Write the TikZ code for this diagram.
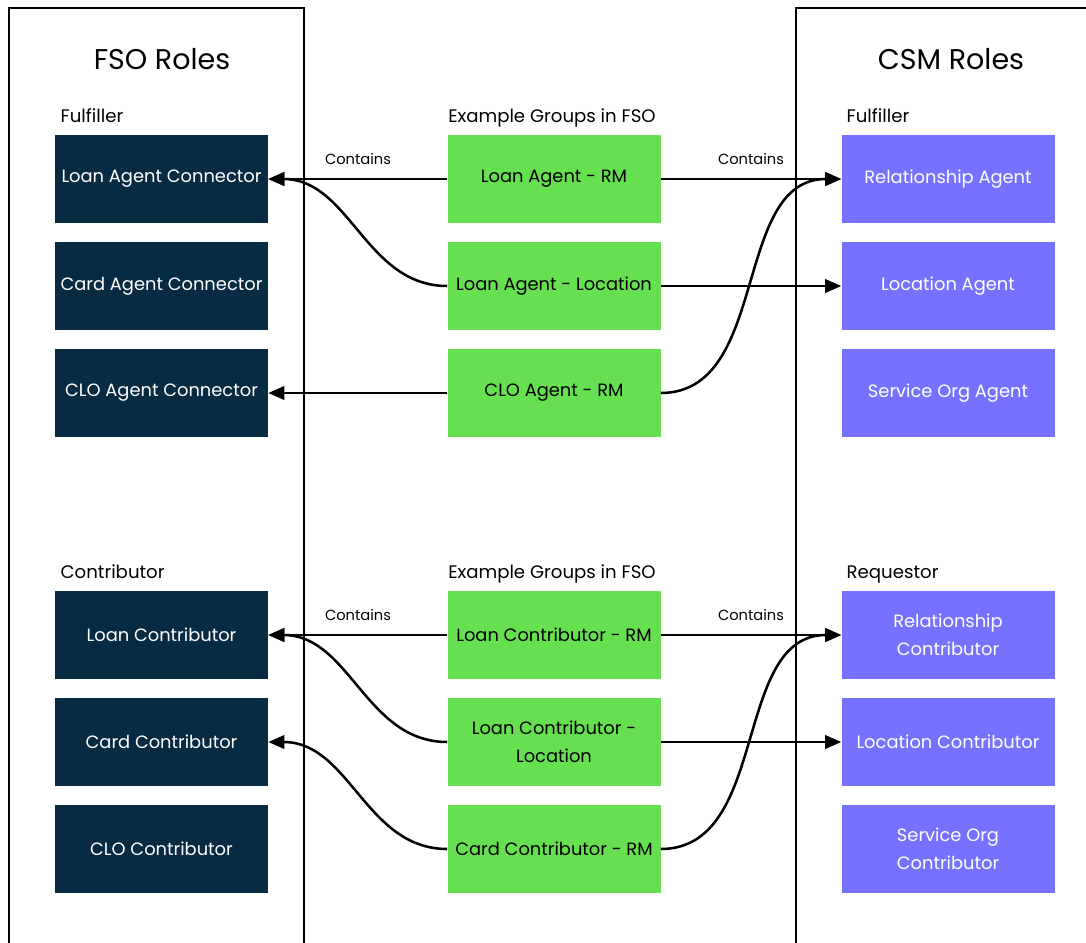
\documentclass[tikz,border=0pt]{standalone}
\usepackage{fontspec}
\setmainfont{Poppins}
\usetikzlibrary{arrows.meta}
\definecolor{navy}{HTML}{062B42}
\definecolor{grp}{HTML}{66E050}
\definecolor{csm}{HTML}{7672FF}
\begin{document}
\begin{tikzpicture}[x=0.75pt,y=-0.75pt,
  rolebox/.style={minimum width=159.75pt,minimum height=66pt,inner sep=0pt,align=center,font=\fontsize{13.4}{21}\selectfont},
  fso/.style={rolebox,fill=navy,text=white},
  group/.style={rolebox,fill=grp,text=black},
  csmrole/.style={rolebox,fill=csm,text=white},
  heading/.style={font=\fontsize{21.4}{26}\selectfont,anchor=base},
  sub/.style={font=\fontsize{13.6}{16}\selectfont},
  lbl/.style={font=\fontsize{11}{13}\selectfont,anchor=base},
  panel/.style={line width=1.1pt},
  link/.style={line width=1.9pt,-{Triangle[length=12pt,width=10pt]}}]
\useasboundingbox (0,0) rectangle (1086,943);
\fill[white] (0,0) rectangle (1086,943);

% panels
\draw[panel] (9,943) -- (9,8) -- (304,8) -- (304,943);
\draw[panel] (1086,8) -- (796,8) -- (796,943);

% headings
\node[heading] (hfso) at (162,69) {FSO Roles};
\node[heading] (hcsm) at (951,69) {CSM Roles};
\node[sub,anchor=base west] (fulL) at (56,122) {Fulfiller};
\node[sub,anchor=base] (exTop) at (552,122) {Example Groups in FSO};
\node[sub,anchor=base west] (fulR) at (842,122) {Fulfiller};
\node[sub,anchor=base west] (contL) at (56,578) {Contributor};
\node[sub,anchor=base] (exBot) at (552,578) {Example Groups in FSO};
\node[sub,anchor=base west] (reqR) at (842,578) {Requestor};

% FSO roles
\node[fso] (l1) at (161.5,179) {Loan Agent Connector};
\node[fso] (l2) at (161.5,286) {Card Agent Connector};
\node[fso] (l3) at (161.5,393) {CLO Agent Connector};
\node[fso] (l4) at (161.5,635) {Loan Contributor};
\node[fso] (l5) at (161.5,742) {Card Contributor};
\node[fso] (l6) at (161.5,849) {CLO Contributor};

% example groups
\node[group] (m1) at (554,179) {Loan Agent - RM};
\node[group] (m2) at (554,286) {Loan Agent - Location};
\node[group] (m3) at (554,393) {CLO Agent - RM};
\node[group] (m4) at (554,635) {Loan Contributor - RM};
\node[group] (m5) at (554,742) {Loan Contributor -\\Location};
\node[group] (m6) at (554,849) {Card Contributor - RM};

% CSM roles
\node[csmrole] (r1) at (948,179) {Relationship Agent};
\node[csmrole] (r2) at (948,286) {Location Agent};
\node[csmrole] (r3) at (948,393) {Service Org Agent};
\node[csmrole] (r4) at (948,635) {Relationship\\Contributor};
\node[csmrole] (r5) at (948,742) {Location Contributor};
\node[csmrole] (r6) at (948,849) {Service Org\\Contributor};

% link labels
\node[lbl] (c1) at (358,164) {Contains};
\node[lbl] (c2) at (751,164) {Contains};
\node[lbl] (c3) at (358,620) {Contains};
\node[lbl] (c4) at (751,620) {Contains};

% fulfiller links
\draw[link] (m1.west) -- (l1.east);
\draw[link] (m2.west) to[out=180,in=0] (l1.east);
\draw[link] (m3.west) -- (l3.east);
\draw[link] (m1.east) -- (r1.west);
\draw[link] (m2.east) -- (r2.west);
\draw[link] (m3.east) to[out=0,in=180] (r1.west);

% contributor links
\draw[link] (m4.west) -- (l4.east);
\draw[link] (m5.west) to[out=180,in=0] (l4.east);
\draw[link] (m6.west) to[out=180,in=0] (l5.east);
\draw[link] (m4.east) -- (r4.west);
\draw[link] (m5.east) -- (r5.west);
\draw[link] (m6.east) to[out=0,in=180] (r4.west);
\end{tikzpicture}
\end{document}
